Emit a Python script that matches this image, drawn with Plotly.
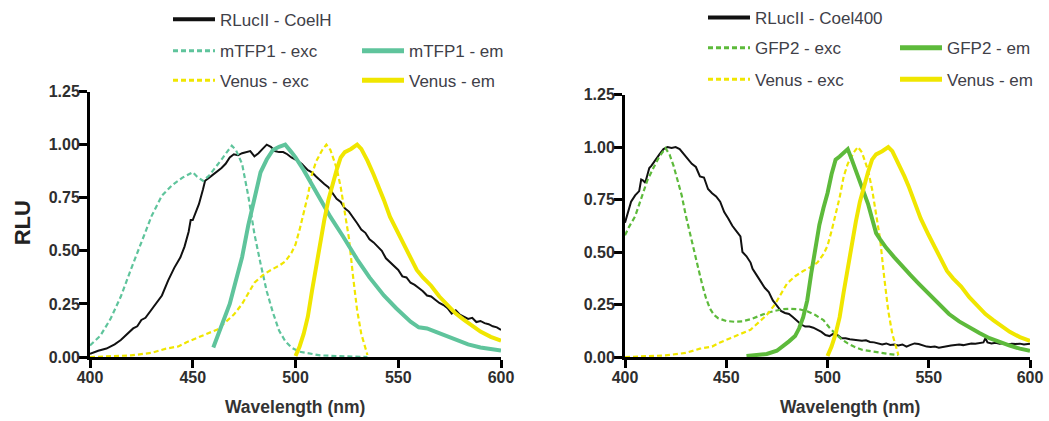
import plotly.graph_objects as go

# ---------------- data ----------------
# Left panel: RLucII - CoelH
rluc_h_x = [400, 404, 408, 412, 415, 418, 421, 423, 425, 427, 429, 432, 435, 438, 441, 444, 446, 448, 449, 450,
            452, 453, 455, 456, 458, 460, 462, 464, 466, 468, 470, 472, 474, 476, 478, 480, 482, 484, 486, 488,
            490, 492, 494, 496, 498, 500, 503, 506, 508, 510, 512, 514, 516, 518, 520, 522, 524, 526, 528, 530,
            532, 534, 536, 538, 540, 542, 544, 546, 548, 550, 552, 554, 556, 558, 560, 562, 564, 566, 568, 570,
            572, 574, 576, 578, 580, 582, 584, 586, 588, 590, 592, 594, 596, 598, 600]
rluc_h_y = [0.015, 0.03, 0.04, 0.06, 0.08, 0.11, 0.135, 0.145, 0.175, 0.185, 0.21, 0.25, 0.29, 0.36, 0.42, 0.47, 0.52, 0.59, 0.645, 0.645,
            0.70, 0.72, 0.79, 0.83, 0.845, 0.86, 0.875, 0.89, 0.91, 0.94, 0.955, 0.95, 0.96, 0.965, 0.97, 0.945, 0.96, 0.98, 1.0, 0.99,
            0.97, 0.965, 0.965, 0.955, 0.94, 0.93, 0.91, 0.88, 0.87, 0.85, 0.83, 0.815, 0.80, 0.77, 0.745, 0.73, 0.70, 0.685, 0.66, 0.63,
            0.60, 0.585, 0.555, 0.54, 0.52, 0.50, 0.465, 0.445, 0.43, 0.41, 0.38, 0.375, 0.35, 0.34, 0.325, 0.31, 0.29, 0.285, 0.27, 0.255,
            0.245, 0.23, 0.205, 0.22, 0.20, 0.19, 0.18, 0.185, 0.165, 0.17, 0.16, 0.155, 0.145, 0.14, 0.128]

mtfp_exc_x = [400, 405, 410, 415, 420, 425, 430, 435, 440, 445, 450, 452, 455, 458, 461, 464, 467, 469, 471, 474,
              477, 480, 483, 486, 489, 492, 495, 498, 502, 507, 512, 520, 528, 535]
mtfp_exc_y = [0.055, 0.10, 0.18, 0.285, 0.415, 0.545, 0.665, 0.76, 0.81, 0.845, 0.87, 0.85, 0.83, 0.855, 0.89, 0.93, 0.97, 0.995, 0.975, 0.91,
              0.76, 0.58, 0.44, 0.31, 0.21, 0.125, 0.075, 0.045, 0.025, 0.015, 0.008, 0.005, 0.003, 0.0]

mtfp_em_x = [460, 464, 468, 471, 474, 477, 480, 483, 486, 489, 492, 495, 498, 500, 504, 510, 517, 523, 530, 536,
             543, 549, 556, 560, 564, 568, 572, 578, 584, 590, 595, 600]
mtfp_em_y = [0.045, 0.15, 0.25, 0.36, 0.47, 0.62, 0.74, 0.87, 0.93, 0.975, 0.99, 1.0, 0.965, 0.94, 0.88, 0.78, 0.66, 0.57, 0.46, 0.375,
             0.29, 0.23, 0.167, 0.14, 0.135, 0.12, 0.105, 0.08, 0.06, 0.045, 0.037, 0.031]

# Venus (shared by both panels)
venus_exc_x = [400, 410, 420, 430, 437, 443, 447, 452, 457, 462, 466, 470, 474, 477, 480, 484, 488, 492, 495, 498,
               500, 502, 504, 506, 508, 510, 513, 515, 517, 520, 522, 524, 526, 528, 530, 532, 534, 535]
venus_exc_y = [0.0, 0.003, 0.008, 0.02, 0.04, 0.05, 0.07, 0.09, 0.11, 0.13, 0.165, 0.2, 0.25, 0.3, 0.35, 0.385, 0.41, 0.43, 0.45, 0.49,
               0.53, 0.60, 0.675, 0.76, 0.86, 0.92, 0.975, 1.0, 0.975, 0.89, 0.80, 0.69, 0.56, 0.38, 0.22, 0.11, 0.035, 0.01]

venus_em_x = [500, 502, 504, 506, 508, 510, 512, 514, 516, 518, 520, 522, 524, 527, 530, 532, 535, 538, 540, 543,
              546, 550, 553, 556, 559, 562, 566, 570, 574, 578, 582, 586, 590, 595, 600]
venus_em_y = [0.005, 0.05, 0.11, 0.19, 0.31, 0.43, 0.55, 0.645, 0.74, 0.82, 0.88, 0.94, 0.965, 0.98, 1.0, 0.98, 0.925, 0.86, 0.815, 0.74,
              0.66, 0.58, 0.52, 0.465, 0.41, 0.375, 0.336, 0.285, 0.245, 0.205, 0.175, 0.145, 0.12, 0.095, 0.077]

# Right panel: RLucII - Coel400
rluc_400_x = [400, 401, 403, 405, 407, 408, 409, 410, 412, 413, 415, 417, 419, 421, 423, 425, 427, 429, 431, 433,
              435, 436, 437, 439, 441, 443, 445, 447, 449, 451, 453, 455, 457, 458, 460, 462, 463, 465, 467, 469,
              471, 473, 475, 477, 479, 481, 483, 485, 487, 489, 491, 493, 495, 497, 499, 501, 503, 505, 507, 509,
              511, 513, 515, 517, 519, 521, 523, 525, 527, 529, 531, 533, 535, 537, 539, 541, 543, 545, 547, 549,
              551, 553, 555, 557, 559, 561, 563, 565, 567, 569, 571, 573, 575, 577, 578, 579, 581, 583, 585, 587,
              589, 591, 593, 595, 597, 600]
rluc_400_y = [0.64, 0.67, 0.74, 0.77, 0.79, 0.845, 0.84, 0.83, 0.90, 0.91, 0.94, 0.965, 0.99, 1.0, 0.995, 1.0, 0.99, 0.965, 0.94, 0.92,
              0.905, 0.88, 0.86, 0.855, 0.80, 0.78, 0.765, 0.74, 0.69, 0.66, 0.625, 0.60, 0.575, 0.50, 0.48, 0.45, 0.42, 0.39, 0.36, 0.33,
              0.31, 0.27, 0.245, 0.22, 0.21, 0.205, 0.19, 0.17, 0.155, 0.145, 0.145, 0.14, 0.13, 0.12, 0.105, 0.10, 0.112, 0.105, 0.09, 0.09,
              0.085, 0.083, 0.08, 0.078, 0.08, 0.072, 0.07, 0.065, 0.06, 0.065, 0.058, 0.06, 0.055, 0.06, 0.05, 0.058, 0.065, 0.062, 0.055, 0.05,
              0.048, 0.05, 0.045, 0.05, 0.052, 0.055, 0.058, 0.06, 0.057, 0.062, 0.065, 0.063, 0.066, 0.07, 0.09, 0.07, 0.065, 0.068, 0.064, 0.066,
              0.06, 0.063, 0.062, 0.064, 0.06, 0.063]

gfp_exc_x = [400, 402, 405, 408, 411, 414, 417, 420, 422, 424, 426, 428, 430, 432, 434, 436, 438, 440, 442, 444,
             446, 450, 454, 458, 462, 466, 470, 474, 478, 482, 486, 490, 494, 498, 501, 504, 507, 510, 513, 517,
             521, 525, 530, 535]
gfp_exc_y = [0.58, 0.62, 0.67, 0.75, 0.84, 0.90, 0.955, 0.995, 0.965, 0.91, 0.84, 0.77, 0.675, 0.59, 0.50, 0.43, 0.35, 0.28, 0.23, 0.20,
             0.185, 0.172, 0.168, 0.17, 0.18, 0.195, 0.21, 0.22, 0.228, 0.23, 0.228, 0.218, 0.2, 0.176, 0.14, 0.11, 0.085, 0.065, 0.05, 0.035,
             0.028, 0.022, 0.015, 0.01]

gfp_em_x = [460, 465, 470, 475, 478, 481, 484, 486, 488, 490, 492, 494, 496, 498, 500, 502, 504, 506, 508, 510,
            512, 514, 517, 520, 522, 524, 526, 529, 533, 537, 541, 545, 550, 555, 560, 565, 570, 575, 580, 585,
            590, 595, 600]
gfp_em_y = [0.005, 0.008, 0.015, 0.03, 0.05, 0.075, 0.10, 0.137, 0.19, 0.27, 0.40, 0.53, 0.63, 0.71, 0.78, 0.87, 0.94, 0.955, 0.975, 0.99,
            0.94, 0.89, 0.81, 0.73, 0.66, 0.59, 0.56, 0.52, 0.475, 0.43, 0.39, 0.35, 0.30, 0.25, 0.205, 0.17, 0.14, 0.115, 0.09, 0.07,
            0.055, 0.04, 0.03]

x_ticks = [400, 450, 500, 550, 600]
y_ticks = [0.0, 0.25, 0.5, 0.75, 1.0, 1.25]

# ---------------- styling ----------------
W, H = 1049, 421
FONT = "Liberation Sans, Arial, sans-serif"
BLACK = "#111111"
TEAL = "#5fc49c"
GREEN = "#5dba3b"
YELLOW = "#f0e600"
EXC_DASH = "5px,3px"


def fx(p):
    return p / W


def fy(p):
    return 1 - p / H


fig = go.Figure()


def add(x, y, name, color, width, dash, xa, ya, legend, leg_width):
    # the data curve
    fig.add_trace(go.Scatter(
        x=x, y=y, name=name, mode="lines",
        line=dict(color=color, width=width, dash=dash),
        xaxis=xa, yaxis=ya, showlegend=False, legendgroup=legend,
    ))
    # legend key
    fig.add_trace(go.Scatter(
        x=[None], y=[None], name=name, mode="lines",
        line=dict(color=color, width=leg_width, dash=dash),
        xaxis=xa, yaxis=ya, legend=legend, showlegend=True, legendgroup=legend,
        hoverinfo="skip",
    ))


# left panel
add(rluc_h_x, rluc_h_y, "RLucII - CoelH", BLACK, 2, "solid", "x", "y", "legend", 4)
add(mtfp_exc_x, mtfp_exc_y, "mTFP1 - exc", TEAL, 2.2, EXC_DASH, "x", "y", "legend2", 3)
add(venus_exc_x, venus_exc_y, "Venus - exc", YELLOW, 2.2, EXC_DASH, "x", "y", "legend3", 3)
add(mtfp_em_x, mtfp_em_y, "mTFP1 - em", TEAL, 4, "solid", "x", "y", "legend4", 5)
add(venus_em_x, venus_em_y, "Venus - em", YELLOW, 4, "solid", "x", "y", "legend5", 5)
# right panel
add(rluc_400_x, rluc_400_y, "RLucII - Coel400", BLACK, 2, "solid", "x2", "y2", "legend6", 4)
add(gfp_exc_x, gfp_exc_y, "GFP2 - exc", GREEN, 2.2, EXC_DASH, "x2", "y2", "legend7", 3)
add(venus_exc_x, venus_exc_y, "Venus - exc", YELLOW, 2.2, EXC_DASH, "x2", "y2", "legend8", 3)
add(gfp_em_x, gfp_em_y, "GFP2 - em", GREEN, 4, "solid", "x2", "y2", "legend9", 5)
add(venus_em_x, venus_em_y, "Venus - em", YELLOW, 4, "solid", "x2", "y2", "legend10", 5)

tickfont = dict(family=FONT, size=16, color="#2e2e2e", weight="bold")
axis_common = dict(
    showline=True, linecolor="black", linewidth=3,
    ticks="outside", ticklen=8, tickwidth=3, tickcolor="black",
    showgrid=False, zeroline=False, automargin=False,
    tickfont=tickfont, layer="below traces", fixedrange=True,
    ticklabelstandoff=-4,
)

legend_font = dict(family=FONT, size=17, color="#404048", weight="normal")


def leg(xp, yp):
    return dict(
        x=fx(xp), y=fy(yp), xanchor="left", yanchor="middle",
        bgcolor="rgba(0,0,0,0)", borderwidth=0, font=legend_font,
        itemwidth=42, orientation="v",
    )


fig.update_layout(
    width=W, height=H,
    margin=dict(l=0, r=0, t=0, b=0),
    paper_bgcolor="white", plot_bgcolor="white",
    template="none",
    xaxis=dict(axis_common, range=[400, 600], tickvals=x_ticks,
               domain=[fx(90), fx(501)], anchor="y"),
    yaxis=dict(axis_common, range=[0, 1.25], tickvals=y_ticks, tickformat=".2f",
               domain=[fy(356), fy(86)], anchor="x"),
    xaxis2=dict(axis_common, range=[400, 600], tickvals=x_ticks,
                domain=[fx(625), fx(1030)], anchor="y2"),
    yaxis2=dict(axis_common, range=[0, 1.25], tickvals=y_ticks, tickformat=".2f",
                domain=[fy(356), fy(89)], anchor="x2"),
    legend=leg(168, 13),
    legend2=leg(168, 45),
    legend3=leg(168, 75),
    legend4=leg(357, 45),
    legend5=leg(357, 75),
    legend6=leg(703, 11),
    legend7=leg(703, 42),
    legend8=leg(703, 74),
    legend9=leg(895, 42),
    legend10=leg(895, 74),
    annotations=[
        dict(text="RLU", x=fx(22), y=fy(220), xref="paper", yref="paper",
             textangle=-90, showarrow=False, xanchor="center", yanchor="middle",
             font=dict(family=FONT, size=22, color="#222222", weight="bold")),
        dict(text="Wavelength (nm)", x=fx(295), y=fy(407), xref="paper", yref="paper",
             showarrow=False, xanchor="center", yanchor="middle",
             font=dict(family=FONT, size=17.5, color="#333333", weight="bold")),
        dict(text="Wavelength (nm)", x=fx(850), y=fy(407), xref="paper", yref="paper",
             showarrow=False, xanchor="center", yanchor="middle",
             font=dict(family=FONT, size=17.5, color="#333333", weight="bold")),
    ],
)

fig.write_html("out.html")
